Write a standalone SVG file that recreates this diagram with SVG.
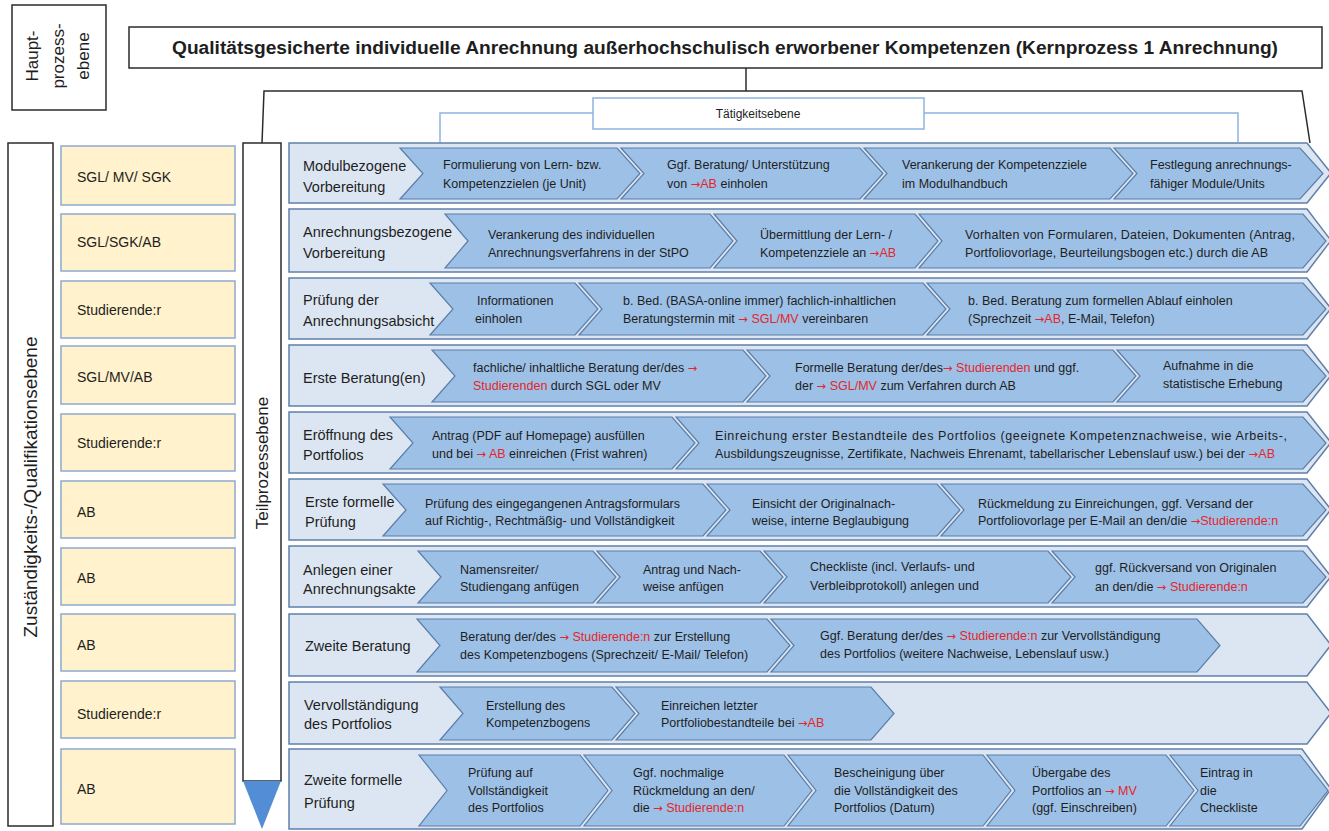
<svg xmlns="http://www.w3.org/2000/svg" width="1329" height="831" viewBox="0 0 1329 831">
<style>
text{font-family:"Liberation Sans",Arial,sans-serif;fill:#1e1e1e}
.box{fill:#fff;stroke:#2b2b2b;stroke-width:1.5}
.row{fill:#DCE6F2;stroke:#5F80AA;stroke-width:1.5}
.chev{fill:#9DC0E6;stroke:#5B7DA8;stroke-width:1.2}
.lbl{font-size:14.5px}
.t{font-size:12.5px}
.r{fill:#E3262B}
.a{font-family:"DejaVu Sans",sans-serif;font-size:11.5px}
.yb{fill:#FFF2CC;stroke:#8DA9CC;stroke-width:1.5}
.yt{font-size:14px}
.blk{fill:none;stroke:#2b2b2b;stroke-width:1.5}
.blu{fill:none;stroke:#8DB4E2;stroke-width:1.5}
</style>

<g id="hauptprozessebene">
<rect class="box" x="12" y="5" width="94" height="105"/>
<g transform="translate(58,56) rotate(-90)">
<text text-anchor="middle" y="-20" font-size="17">Haupt-</text>
<text text-anchor="middle" y="6" font-size="17">prozess-</text>
<text text-anchor="middle" y="31" font-size="17">ebene</text>
</g>
</g>

<g id="title">
<rect class="box" x="129" y="27" width="1193" height="41"/>
<text x="725" y="54" text-anchor="middle" font-weight="bold" font-size="17.5" textLength="1106" lengthAdjust="spacingAndGlyphs">Qualitätsgesicherte individuelle Anrechnung außerhochschulisch erworbener Kompetenzen (Kernprozess 1 Anrechnung)</text>
</g>

<g id="connectors">
<polyline class="blk" points="746,68 746,91"/>
<polyline class="blk" points="262,143 264,91 1302,91 1310,143"/>
<polyline class="blu" points="440,143 440,113 593,113"/>
<polyline class="blu" points="924,113 1238,113 1238,142"/>
</g>

<g id="taetigkeitsebene">
<rect x="593" y="98" width="331" height="31" fill="#fff" stroke="#8DB4E2" stroke-width="1.5"/>
<text x="758" y="117.5" text-anchor="middle" font-size="12">Tätigkeitsebene</text>
</g>

<g id="zustaendigkeitsebene">
<rect class="box" x="8" y="143" width="45" height="683"/>
<text transform="translate(37,487) rotate(-90)" text-anchor="middle" font-size="19">Zuständigkeits-/Qualifikationsebene</text>
</g>

<g id="teilprozessebene">
<rect class="box" x="243" y="143" width="38" height="638"/>
<polygon points="243,781 281,781 262,829" fill="#538DD5"/>
<text transform="translate(268,463) rotate(-90)" text-anchor="middle" font-size="17">Teilprozessebene</text>
</g>

<g id="rollen">
<rect class="yb" x="61" y="146" width="174" height="59"/><text class="yt" x="77" y="182">SGL/ MV/ SGK</text>
<rect class="yb" x="61" y="214" width="174" height="57"/><text class="yt" x="77" y="247">SGL/SGK/AB</text>
<rect class="yb" x="61" y="281" width="174" height="57"/><text class="yt" x="77" y="315">Studierende:r</text>
<rect class="yb" x="61" y="346" width="174" height="58"/><text class="yt" x="77" y="382">SGL/MV/AB</text>
<rect class="yb" x="61" y="414" width="174" height="57"/><text class="yt" x="77" y="448">Studierende:r</text>
<rect class="yb" x="61" y="481" width="174" height="57"/><text class="yt" x="77" y="517">AB</text>
<rect class="yb" x="61" y="548" width="174" height="57"/><text class="yt" x="77" y="583">AB</text>
<rect class="yb" x="61" y="614" width="174" height="57"/><text class="yt" x="77" y="650">AB</text>
<rect class="yb" x="61" y="681" width="174" height="57"/><text class="yt" x="77" y="719">Studierende:r</text>
<rect class="yb" x="61" y="749" width="174" height="75"/><text class="yt" x="77" y="794">AB</text>
</g>

<g id="row1">
<polygon class="row" points="289,143 1307,143 1331,173 1307,203 289,203"/>
<polygon class="chev" points="400,148 617,148 640,173.5 617,199 400,199 423,173.5"/>
<polygon class="chev" points="621,148 860,148 883,173.5 860,199 621,199 644,173.5"/>
<polygon class="chev" points="864,148 1110,148 1133,173.5 1110,199 864,199 887,173.5"/>
<polygon class="chev" points="1114,148 1300,148 1323,173.5 1300,199 1114,199 1137,173.5"/>
<text class="lbl" x="303" y="171">Modulbezogene</text><text class="lbl" x="303" y="192">Vorbereitung</text>
<text class="t" x="443" y="169">Formulierung von Lern- bzw.</text><text class="t" x="443" y="188">Kompetenzzielen (je Unit)</text>
<text class="t" x="667" y="169">Ggf. Beratung/ Unterstützung</text><text class="t" x="667" y="188">von <tspan class="r"><tspan class="a">→</tspan>AB</tspan> einholen</text>
<text class="t" x="902" y="169">Verankerung der Kompetenzziele</text><text class="t" x="902" y="188">im Modulhandbuch</text>
<text class="t" x="1150" y="169">Festlegung anrechnungs-</text><text class="t" x="1150" y="188">fähiger Module/Units</text>
</g>

<g id="row2">
<polygon class="row" points="289,209 1307,209 1331,240.5 1307,272 289,272"/>
<polygon class="chev" points="445,214 710,214 733,241 710,268 445,268 468,241"/>
<polygon class="chev" points="714,214 915,214 938,241 915,268 714,268 737,241"/>
<polygon class="chev" points="919,214 1303,214 1326,241 1303,268 919,268 942,241"/>
<text class="lbl" x="303" y="237">Anrechnungsbezogene</text><text class="lbl" x="303" y="258">Vorbereitung</text>
<text class="t" x="488" y="239">Verankerung des individuellen</text><text class="t" x="488" y="257">Anrechnungsverfahrens in der StPO</text>
<text class="t" x="760" y="239">Übermittlung der Lern- /</text><text class="t" x="760" y="257">Kompetenzziele an <tspan class="r"><tspan class="a">→</tspan>AB</tspan></text>
<text class="t" x="965" y="239" textLength="330" lengthAdjust="spacing">Vorhalten von Formularen, Dateien, Dokumenten (Antrag,</text><text class="t" x="965" y="257" textLength="303" lengthAdjust="spacing">Portfoliovorlage, Beurteilungsbogen etc.) durch die AB</text>
</g>

<g id="row3">
<polygon class="row" points="289,278 1307,278 1331,308.5 1307,339 289,339"/>
<polygon class="chev" points="430,283 575,283 598,309 575,335 430,335 453,309"/>
<polygon class="chev" points="579,283 923,283 946,309 923,335 579,335 602,309"/>
<polygon class="chev" points="927,283 1303,283 1326,309 1303,335 927,335 950,309"/>
<text class="lbl" x="303" y="305">Prüfung der</text><text class="lbl" x="303" y="326">Anrechnungsabsicht</text>
<text class="t" x="477" y="305">Informationen</text><text class="t" x="475" y="323">einholen</text>
<text class="t" x="623" y="305">b. Bed. (BASA-online immer) fachlich-inhaltlichen</text><text class="t" x="623" y="323">Beratungstermin mit <tspan class="r"><tspan class="a">→</tspan> SGL/MV</tspan> vereinbaren</text>
<text class="t" x="968" y="305">b. Bed. Beratung zum formellen Ablauf einholen</text><text class="t" x="968" y="323">(Sprechzeit <tspan class="r"><tspan class="a">→</tspan>AB</tspan>, E-Mail, Telefon)</text>
</g>

<g id="row4">
<polygon class="row" points="289,345 1307,345 1331,375.5 1307,406 289,406"/>
<polygon class="chev" points="432,350 743,350 766,376 743,402 432,402 455,376"/>
<polygon class="chev" points="747,350 1113,350 1136,376 1113,402 747,402 770,376"/>
<polygon class="chev" points="1117,350 1303,350 1326,376 1303,402 1117,402 1140,376"/>
<text class="lbl" x="303" y="383">Erste Beratung(en)</text>
<text class="t" x="473" y="372">fachliche/ inhaltliche Beratung der/des <tspan class="r a">→</tspan></text><text class="t" x="473" y="390"><tspan class="r">Studierenden</tspan> durch SGL oder MV</text>
<text class="t" x="795" y="372">Formelle Beratung der/des<tspan class="r"><tspan class="a">→</tspan> Studierenden</tspan> und ggf.</text><text class="t" x="795" y="390">der <tspan class="r"><tspan class="a">→</tspan> SGL/MV</tspan> zum Verfahren durch AB</text>
<text class="t" x="1163" y="370">Aufnahme in die</text><text class="t" x="1163" y="388">statistische Erhebung</text>
</g>

<g id="row5">
<polygon class="row" points="289,412 1307,412 1331,442.5 1307,473 289,473"/>
<polygon class="chev" points="390,417 672,417 695,443 672,469 390,469 413,443"/>
<polygon class="chev" points="676,417 1303,417 1326,443 1303,469 676,469 699,443"/>
<text class="lbl" x="303" y="440">Eröffnung des</text><text class="lbl" x="303" y="460">Portfolios</text>
<text class="t" x="432" y="440">Antrag (PDF auf Homepage) ausfüllen</text><text class="t" x="432" y="458">und bei <tspan class="r"><tspan class="a">→</tspan> AB</tspan> einreichen (Frist wahren)</text>
<text class="t" x="715" y="440" textLength="572" lengthAdjust="spacing">Einreichung erster Bestandteile des Portfolios (geeignete Kompetenznachweise, wie Arbeits-,</text><text class="t" x="715" y="458" textLength="560" lengthAdjust="spacing">Ausbildungszeugnisse, Zertifikate, Nachweis Ehrenamt, tabellarischer Lebenslauf usw.) bei der <tspan class="r"><tspan class="a">→</tspan>AB</tspan></text>
</g>

<g id="row6">
<polygon class="row" points="289,479 1307,479 1331,509.5 1307,540 289,540"/>
<polygon class="chev" points="383,484 703,484 726,510 703,536 383,536 406,510"/>
<polygon class="chev" points="707,484 937,484 960,510 937,536 707,536 730,510"/>
<polygon class="chev" points="941,484 1303,484 1326,510 1303,536 941,536 964,510"/>
<text class="lbl" x="305" y="507">Erste formelle</text><text class="lbl" x="305" y="527">Prüfung</text>
<text class="t" x="425" y="508">Prüfung des eingegangenen Antragsformulars</text><text class="t" x="425" y="525">auf Richtig-, Rechtmäßig- und Vollständigkeit</text>
<text class="t" x="752" y="508">Einsicht der Originalnach-</text><text class="t" x="752" y="525">weise, interne Beglaubigung</text>
<text class="t" x="978" y="508">Rückmeldung zu Einreichungen, ggf. Versand der</text><text class="t" x="978" y="525">Portfoliovorlage per E-Mail an den/die <tspan class="r"><tspan class="a">→</tspan>Studierende:n</tspan></text>
</g>

<g id="row7">
<polygon class="row" points="289,546 1307,546 1331,576.5 1307,607 289,607"/>
<polygon class="chev" points="418,551 593,551 616,577 593,603 418,603 441,577"/>
<polygon class="chev" points="597,551 760,551 783,577 760,603 597,603 620,577"/>
<polygon class="chev" points="764,551 1048,551 1071,577 1048,603 764,603 787,577"/>
<polygon class="chev" points="1052,551 1303,551 1326,577 1303,603 1052,603 1075,577"/>
<text class="lbl" x="303" y="575">Anlegen einer</text><text class="lbl" x="303" y="594">Anrechnungsakte</text>
<text class="t" x="460" y="574">Namensreiter/</text><text class="t" x="460" y="591">Studiengang anfügen</text>
<text class="t" x="643" y="574">Antrag und Nach-</text><text class="t" x="643" y="591">weise anfügen</text>
<text class="t" x="810" y="571">Checkliste (incl. Verlaufs- und</text><text class="t" x="810" y="590">Verbleibprotokoll) anlegen und</text>
<text class="t" x="1095" y="572">ggf. Rückversand von Originalen</text><text class="t" x="1095" y="591">an den/die <tspan class="r"><tspan class="a">→</tspan> Studierende:n</tspan></text>
</g>

<g id="row8">
<polygon class="row" points="289,614 1307,614 1331,645 1307,676 289,676"/>
<polygon class="chev" points="417,619 767,619 790,645.5 767,672 417,672 440,645.5"/>
<polygon class="chev" points="771,619 1197,619 1220,645.5 1197,672 771,672 794,645.5"/>
<text class="lbl" x="305" y="651">Zweite Beratung</text>
<text class="t" x="460" y="641">Beratung der/des <tspan class="r"><tspan class="a">→</tspan> Studierende:n</tspan> zur Erstellung</text><text class="t" x="460" y="659">des Kompetenzbogens (Sprechzeit/ E-Mail/ Telefon)</text>
<text class="t" x="820" y="640">Ggf. Beratung der/des <tspan class="r"><tspan class="a">→</tspan> Studierende:n</tspan> zur Vervollständigung</text><text class="t" x="820" y="658">des Portfolios (weitere Nachweise, Lebenslauf usw.)</text>
</g>

<g id="row9">
<polygon class="row" points="289,682 1307,682 1331,713 1307,744 289,744"/>
<polygon class="chev" points="440,687 612,687 635,713.5 612,740 440,740 463,713.5"/>
<polygon class="chev" points="616,687 871,687 894,713.5 871,740 616,740 639,713.5"/>
<text class="lbl" x="304" y="710">Vervollständigung</text><text class="lbl" x="304" y="729">des Portfolios</text>
<text class="t" x="486" y="710">Erstellung des</text><text class="t" x="486" y="727">Kompetenzbogens</text>
<text class="t" x="661" y="710">Einreichen letzter</text><text class="t" x="661" y="727">Portfoliobestandteile bei <tspan class="r"><tspan class="a">→</tspan>AB</tspan></text>
</g>

<g id="row10">
<polygon class="row" points="289,749 1302,749 1331,789 1302,829 289,829"/>
<polygon class="chev" points="419,755 580,755 608,790.5 580,826 419,826 447,790.5"/>
<polygon class="chev" points="584,755 784,755 812,790.5 784,826 584,826 612,790.5"/>
<polygon class="chev" points="788,755 983,755 1011,790.5 983,826 788,826 816,790.5"/>
<polygon class="chev" points="987,755 1166,755 1194,790.5 1166,826 987,826 1015,790.5"/>
<polygon class="chev" points="1170,755 1300,755 1328,790.5 1300,826 1170,826 1198,790.5"/>
<text class="lbl" x="304" y="785">Zweite formelle</text><text class="lbl" x="304" y="808">Prüfung</text>
<text class="t" x="468" y="777">Prüfung auf</text><text class="t" x="468" y="795">Vollständigkeit</text><text class="t" x="468" y="812">des Portfolios</text>
<text class="t" x="633" y="777">Ggf. nochmalige</text><text class="t" x="633" y="795">Rückmeldung an den/</text><text class="t" x="633" y="812">die <tspan class="r"><tspan class="a">→</tspan> Studierende:n</tspan></text>
<text class="t" x="834" y="777">Bescheinigung über</text><text class="t" x="834" y="795">die Vollständigkeit des</text><text class="t" x="834" y="812">Portfolios (Datum)</text>
<text class="t" x="1032" y="777">Übergabe des</text><text class="t" x="1032" y="795">Portfolios an <tspan class="r"><tspan class="a">→</tspan> MV</tspan></text><text class="t" x="1032" y="812">(ggf. Einschreiben)</text>
<text class="t" x="1200" y="777">Eintrag in</text><text class="t" x="1200" y="795">die</text><text class="t" x="1200" y="812">Checkliste</text>
</g>
</svg>
